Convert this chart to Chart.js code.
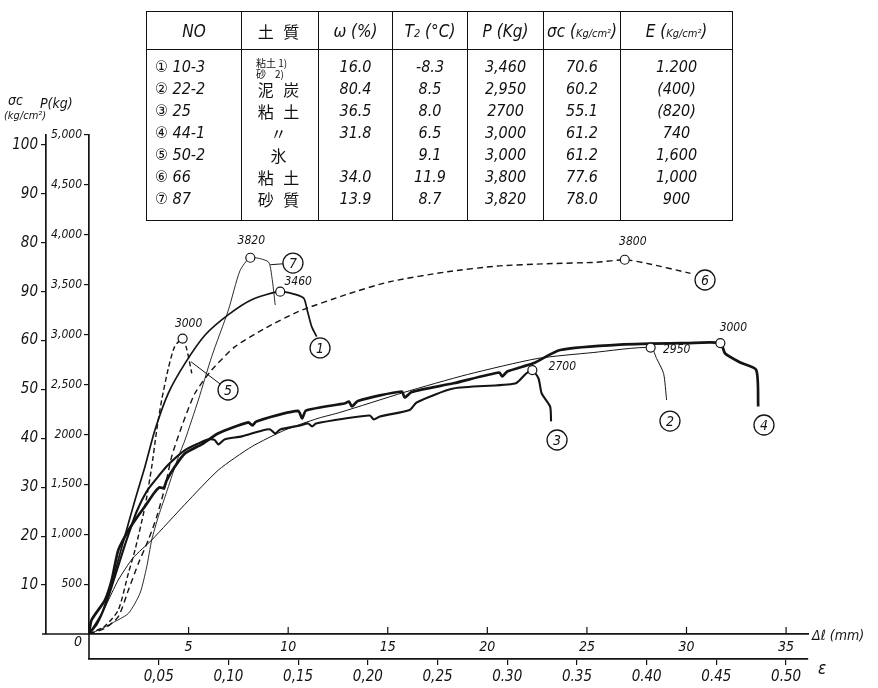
<!DOCTYPE html>
<html>
<head>
<meta charset="utf-8">
<script src="https://cdn.jsdelivr.net/npm/chart.js@4.4.1/dist/chart.umd.min.js"></script>
<style>
  html, body { margin: 0; padding: 0; background: #fff; }
  #wrap { position: relative; width: 878px; height: 688px; }
  #chart { position: absolute; left: 0; top: 0; }
  #tbl {
    position: absolute; left: 146px; top: 11px; width: 586px;
    table-layout: fixed; border-collapse: collapse; color: #111;
    font-family: "Liberation Sans Narrow", "DejaVu Sans Condensed", "Noto Sans CJK JP", sans-serif;
    font-style: italic; font-size: 16px;
    border: 1.6px solid #111;
  }
  #tbl th, #tbl td {
    border-left: 1.5px solid #111; border-right: 1.5px solid #111;
    padding: 0; text-align: center; white-space: nowrap; overflow: visible;
  }
  #tbl th { height: 37px; font-weight: normal; font-size: 17px; border-bottom: 1.6px solid #111; }
  #tbl td { height: 22px; }
  #tbl td .c { height: 22px; line-height: 22px; overflow: visible; }
  #tbl tr.gap td { height: 6px; line-height: 6px; font-size: 1px; }
  #tbl tr.gapb td { height: 10px; line-height: 10px; font-size: 1px; }
  .jp { font-family: "Noto Sans CJK JP", sans-serif; font-style: normal; font-size: 16px; letter-spacing: 3px; }
  .two { font-family: "Noto Sans CJK JP", sans-serif; font-style: normal; font-size: 10px;
         line-height: 11px; height: 22px; position: relative; top: 1px; text-align: left; padding-left: 14px; }
  .unit { font-size: 11px; }
</style>
</head>
<body>
<div id="wrap">
  <canvas id="chart" width="878" height="688"></canvas>
  <table id="tbl"></table>
</div>
<script>
// ---- data: load P (kg) against deformation Δl (mm) ----
const curve1 = [[0,0],[0.64,207],[1.14,508],[1.56,809],[1.98,1109],[2.31,1343],[2.81,1677],[3.31,2044],[3.98,2412],[4.82,2712],[5.83,2996],[7.0,3200],[8.17,3350],[9.6,3430],[10.76,3370],[10.95,3250],[11.18,3080],[11.43,2980]];
const curve2 = [[0,0],[0.5,150],[1.0,350],[1.47,541],[2.2,760],[3.15,942],[4.82,1300],[6.5,1643],[8.17,1877],[9.84,2044],[11.5,2161],[12.6,2220],[15.8,2420],[19.0,2600],[22.5,2760],[25.3,2820],[28.2,2870],[28.5,2760],[28.85,2610],[29.0,2345]];
const curve3 = [[0,0],[0.4,100],[0.9,330],[1.4,640],[1.9,950],[2.4,1230],[2.9,1430],[3.4,1560],[4.0,1700],[4.82,1843],[5.5,1910],[6.0,1950],[6.3,1945],[6.5,1900],[6.8,1950],[7.67,1980],[8.7,2040],[9.1,2050],[9.35,2010],[9.6,2050],[10.6,2090],[11.0,2110],[11.2,2080],[11.4,2110],[12.86,2160],[14.1,2190],[14.3,2150],[14.6,2180],[16.1,2245],[16.45,2320],[18.3,2460],[21.4,2510],[21.95,2610],[22.26,2645],[22.57,2560],[22.73,2410],[23.15,2280],[23.2,2130]];
const curve4 = [[0,0],[0.13,140],[0.8,340],[1.14,540],[1.47,840],[1.98,1040],[2.31,1140],[2.81,1280],[3.3,1420],[3.55,1470],[3.75,1460],[3.9,1540],[4.32,1680],[4.82,1810],[5.66,1900],[6.5,2011],[8.0,2120],[8.2,2090],[8.4,2130],[10.5,2235],[10.7,2160],[10.9,2240],[12.86,2312],[13.05,2330],[13.2,2280],[13.5,2335],[15.7,2430],[15.85,2370],[16.2,2425],[18.3,2512],[20.6,2620],[20.75,2580],[21.0,2630],[22.3,2712],[23.66,2846],[26.67,2900],[30.0,2915],[31.7,2915],[31.94,2810],[32.7,2720],[33.5,2645],[33.6,2280]];
const curve5 = [[0,0],[0.8,80],[1.47,240],[1.98,611],[2.31,842],[2.81,1276],[3.15,1676],[3.4,2044],[3.65,2345],[3.98,2660],[4.3,2880],[4.7,2960],[4.9,2860],[5.16,2612]];
const curve6 = [[0,0],[0.8,57],[1.47,173],[1.98,441],[2.48,708],[2.98,942],[3.4,1175],[3.82,1476],[4.15,1777],[4.65,2077],[5.32,2412],[6.16,2645],[7.33,2879],[8.84,3063],[10.5,3230],[12.9,3400],[15.1,3530],[18.0,3630],[20.5,3687],[23.0,3710],[25.5,3725],[26.9,3750],[28.0,3714],[30.2,3614]];
const curve7 = [[0,0],[0.6,50],[1.14,107],[1.98,207],[2.56,408],[2.9,675],[3.15,942],[3.48,1176],[3.82,1376],[4.15,1576],[4.49,1777],[4.82,1944],[5.49,2345],[6.16,2779],[7.0,3247],[7.58,3640],[8.1,3770],[9.0,3730],[9.18,3580],[9.35,3296]];

// failure points (curve 1..7) and their written values
const peakDl = [9.6, 28.2, 22.26, 31.7, 4.7, 26.9, 8.1];
const peakP  = [3430, 2870, 2645, 2915, 2960, 3750, 3770];
const peakText = ["3460", "2950", "2700", "3000", "3000", "3800", "3820"];

// axes
const dlTicks = [5, 10, 15, 20, 25, 30, 35];
const epsTicks = [0.05, 0.10, 0.15, 0.20, 0.25, 0.30, 0.35, 0.40, 0.45, 0.50];
const epsLabels = ["0,05", "0,10", "0,15", "0,20", "0,25", "0.30", "0.35", "0.40", "0.45", "0.50"];
const pTicks = [500, 1000, 1500, 2000, 2500, 3000, 3500, 4000, 4500, 5000];
const pLabels = ["500", "1,000", "1,500", "2000", "2,500", "3,000", "3,500", "4,000", "4,500", "5,000"];
const sigmaTicks = [10, 20, 30, 40, 50, 60, 70, 80, 90, 100];
const sigmaLabels = ["10", "20", "30", "40", "50", "60", "90", "80", "90", "100"];
const AREA = 49.0;          // cm², P / σc
const SPECIMEN_LEN = 70;    // mm, Δl / ε
const DL_MAX = 36.1;
const P_MAX = 5000;

// table
const tblNo = ["① 10-3", "② 22-2", "③ 25", "④ 44-1", "⑤ 50-2", "⑥ 66", "⑦ 87"];
const tblSoil = [null, "泥 炭", "粘 土", "〃", "氷", "粘 土", "砂 質"];
const tblW = ["16.0", "80.4", "36.5", "31.8", "", "34.0", "13.9"];
const tblT2 = ["-8.3", "8.5", "8.0", "6.5", "9.1", "11.9", "8.7"];
const tblP = ["3,460", "2,950", "2700", "3,000", "3,000", "3,800", "3,820"];
const tblSigma = ["70.6", "60.2", "55.1", "61.2", "61.2", "77.6", "78.0"];
const tblE = ["1.200", "(400)", "(820)", "740", "1,600", "1,000", "900"];

const INK = "#141414";
const HAND = '"Liberation Sans Narrow", "DejaVu Sans Condensed", "DejaVu Sans", sans-serif';

// build the table
(function () {
  const widths = [95, 77, 74, 75, 76, 77, 112];
  const cell = (s, style) => `<td${style ? ` style="${style}"` : ""}><div class="c">${s}</div></td>`;
  let h = "<colgroup>" + widths.map(w => `<col style="width:${w}px">`).join("") + "</colgroup>";
  h += '<tr><th>NO</th><th><span class="jp">土 質</span></th><th>ω (%)</th><th>T<span class="unit">2</span> (°C)</th>' +
       '<th>P (Kg)</th><th>σc (<span class="unit">Kg/cm²</span>)</th><th>E (<span class="unit">Kg/cm²</span>)</th></tr>';
  h += '<tr class="gap"><td></td><td></td><td></td><td></td><td></td><td></td><td></td></tr>';
  for (let i = 0; i < tblNo.length; i++) {
    const soil = tblSoil[i] === null
      ? '<div class="two">粘土 1)<br>砂 &nbsp;&nbsp;&nbsp;2)</div>'
      : `<span class="jp">${tblSoil[i]}</span>`;
    h += "<tr>" + cell(tblNo[i], "text-align:left;padding-left:8px") + cell(soil) + cell(tblW[i]) +
         cell(tblT2[i]) + cell(tblP[i]) + cell(tblSigma[i]) + cell(tblE[i]) + "</tr>";
  }
  h += '<tr class="gapb"><td></td><td></td><td></td><td></td><td></td><td></td><td></td></tr>';
  document.getElementById("tbl").innerHTML = h;
})();

const toXY = arr => arr.map(([x, y]) => ({x, y}));

const curves = [curve1, curve2, curve3, curve4, curve5, curve6, curve7];
const curveStyle = [
  {w: 1.7, dash: []},
  {w: 1.0, dash: []},
  {w: 2.1, dash: []},
  {w: 2.7, dash: []},
  {w: 1.4, dash: [5, 3]},
  {w: 1.4, dash: [6, 4]},
  {w: 0.9, dash: []},
];

// circled labels: anchor (Δl, P), optional leader start (Δl, P)
const circleLabels = [
  {n: "1", at: [11.6, 2866]},
  {n: "2", at: [29.17, 2134]},
  {n: "3", at: [23.5, 1944]},
  {n: "4", at: [33.89, 2094]},
  {n: "5", at: [6.98, 2445], from: [5.12, 2728]},
  {n: "6", at: [30.93, 3547]},
  {n: "7", at: [10.24, 3717], from: [9.1, 3700]},
];
// peak text offsets in px (curve order)
const peakOffset = [[18, -10], [26, 2], [30, -3], [13, -15], [6, -15], [8, -18], [1, -17]];

const overlay = {
  id: "overlay",
  afterDraw(chart) {
    const {ctx, chartArea: a, scales: {x, yP, yS}} = chart;
    ctx.save();
    ctx.strokeStyle = INK;
    ctx.fillStyle = INK;
    ctx.lineWidth = 1.6;
    ctx.beginPath();
    ctx.moveTo(yS.right - 4, a.bottom); ctx.lineTo(a.left, a.bottom);
    ctx.moveTo(a.left, a.bottom); ctx.lineTo(a.left, x.bottom);
    ctx.stroke();
    // Δl ticks point up
    ctx.lineWidth = 1.2;
    dlTicks.forEach(v => {
      const px = x.getPixelForValue(v);
      ctx.beginPath(); ctx.moveTo(px, a.bottom); ctx.lineTo(px, a.bottom - 7); ctx.stroke();
    });
    ctx.font = `italic 14px ${HAND}`;
    ctx.textBaseline = "middle";
    ctx.textAlign = "left";
    ctx.fillText("0", 74, a.bottom + 8);
    ctx.fillText("Δℓ (mm)", a.right + 4, a.bottom + 2);
    ctx.font = `italic 17px ${HAND}`;
    ctx.fillText("ε", a.right + 10, x.bottom + 11);
    ctx.font = `italic 14px ${HAND}`;
    ctx.fillText("σc", 8, 101);
    ctx.fillText("P(kg)", 40, 104);
    ctx.font = `italic 11px ${HAND}`;
    ctx.fillText("(kg/cm²)", 4, 116);

    // peak values
    ctx.font = `italic 12px ${HAND}`;
    ctx.textAlign = "center";
    peakDl.forEach((d, i) => {
      const px = x.getPixelForValue(d), py = yP.getPixelForValue(peakP[i]);
      ctx.fillText(peakText[i], px + peakOffset[i][0], py + peakOffset[i][1]);
    });

    // circled curve numbers
    const R = 10;
    circleLabels.forEach(c => {
      const cx = x.getPixelForValue(c.at[0]), cy = yP.getPixelForValue(c.at[1]);
      if (c.from) {
        const fx = x.getPixelForValue(c.from[0]), fy = yP.getPixelForValue(c.from[1]);
        const d = Math.hypot(cx - fx, cy - fy);
        ctx.lineWidth = 1;
        ctx.beginPath();
        ctx.moveTo(fx, fy);
        ctx.lineTo(cx - (cx - fx) * R / d, cy - (cy - fy) * R / d);
        ctx.stroke();
      }
      ctx.lineWidth = 1.3;
      ctx.beginPath(); ctx.arc(cx, cy, R, 0, Math.PI * 2); ctx.stroke();
      ctx.font = `italic 14px ${HAND}`;
      ctx.fillText(c.n, cx, cy + 1);
    });
    ctx.restore();
  }
};

Chart.defaults.font.family = HAND;
Chart.defaults.font.style = "italic";
Chart.defaults.font.size = 13;
Chart.defaults.color = INK;

const datasets = [{
  label: "peaks",
  data: peakDl.map((d, i) => ({x: d, y: peakP[i]})),
  showLine: false,
  pointRadius: 4.5,
  pointBackgroundColor: "#fff",
  pointBorderColor: INK,
  pointBorderWidth: 1.2,
  xAxisID: "x", yAxisID: "yP"
}];
curves.forEach((c, i) => datasets.push({
  label: "curve " + (i + 1),
  data: toXY(c),
  borderColor: INK,
  borderWidth: curveStyle[i].w,
  borderDash: curveStyle[i].dash,
  pointRadius: 0,
  tension: 0.22,
  fill: false,
  xAxisID: "x", yAxisID: "yP"
}));

const axisGrid = {drawOnChartArea: false, drawTicks: true, tickLength: 5, color: INK, lineWidth: 1.2};

new Chart(document.getElementById("chart"), {
  type: "line",
  data: {datasets},
  options: {
    responsive: false,
    animation: false,
    events: [],
    layout: {padding: {left: 0, right: 70, top: 135, bottom: 0}},
    plugins: {legend: {display: false}, tooltip: {enabled: false}},
    scales: {
      x: {
        type: "linear", position: "bottom", min: 0, max: DL_MAX, weight: 0,
        afterBuildTicks: s => { s.ticks = dlTicks.map(v => ({value: v})); },
        afterFit: s => { s.height = 25; },
        grid: {drawOnChartArea: false, drawTicks: false},
        border: {color: INK, width: 1.8},
        ticks: {padding: 5, font: {size: 14}, maxRotation: 0, autoSkip: false, callback: v => String(v)}
      },
      e: {
        type: "linear", position: "bottom", min: 0, max: DL_MAX / SPECIMEN_LEN, weight: 1,
        afterBuildTicks: s => { s.ticks = epsTicks.map(v => ({value: v})); },
        afterFit: s => { s.height = 29; },
        grid: {drawOnChartArea: false, drawTicks: true, tickLength: 6, color: INK, lineWidth: 1.2},
        border: {color: INK, width: 1.8},
        ticks: {padding: 3, font: {size: 15}, maxRotation: 0, autoSkip: false, callback: (v, i) => epsLabels[i]}
      },
      yP: {
        type: "linear", position: "left", min: 0, max: P_MAX, weight: 0,
        afterBuildTicks: s => { s.ticks = pTicks.map(v => ({value: v})); },
        afterFit: s => { s.width = 43; },
        grid: axisGrid,
        border: {color: INK, width: 1.7},
        ticks: {padding: 2, font: {size: 12}, autoSkip: false, callback: (v, i) => pLabels[i]}
      },
      yS: {
        type: "linear", position: "left", min: 0, max: P_MAX / AREA, weight: 1,
        afterBuildTicks: s => { s.ticks = sigmaTicks.map(v => ({value: v})); },
        afterFit: s => { s.width = 46; },
        grid: axisGrid,
        border: {color: INK, width: 1.7},
        ticks: {padding: 3, font: {size: 15}, autoSkip: false, callback: (v, i) => sigmaLabels[i]}
      }
    }
  },
  plugins: [overlay]
});
</script>
</body>
</html>
